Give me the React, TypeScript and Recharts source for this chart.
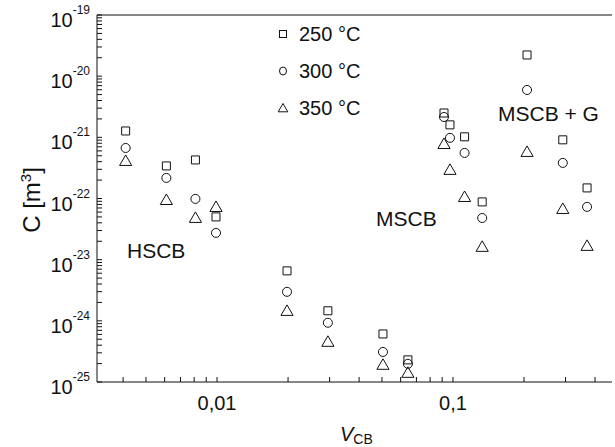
import React from 'react';
import { ScatterChart, Scatter, XAxis, YAxis, ZAxis, ReferenceLine, Customized } from 'recharts';

const FONT = '"Liberation Sans", Arial, Helvetica, sans-serif';
const INK = '#111';

// V_CB values (shared by the three temperatures)
const vcb = [0.0041, 0.0061, 0.0081, 0.0099, 0.0198, 0.0295, 0.0505, 0.0644, 0.0916, 0.0971, 0.112, 0.133, 0.206, 0.292, 0.37];
const c250 = [1.27e-21, 3.41e-22, 4.27e-22, 5.0e-23, 6.56e-24, 1.46e-24, 6.1e-25, 2.3e-25, 2.5e-21, 1.6e-21, 1.02e-21, 8.8e-23, 2.22e-20, 9.1e-22, 1.49e-22];
const c300 = [6.7e-22, 2.17e-22, 9.85e-23, 2.74e-23, 2.98e-24, 9.3e-25, 3.1e-25, 1.98e-25, 2.15e-21, 9.8e-22, 5.56e-22, 4.8e-23, 5.95e-21, 3.82e-22, 7.3e-23];
const c350 = [3.96e-22, 9.1e-23, 4.64e-23, 7.0e-23, 1.4e-24, 4.37e-25, 1.84e-25, 1.36e-25, 7.5e-22, 2.83e-22, 1.02e-22, 1.56e-23, 5.56e-22, 6.5e-23, 1.62e-23];
const seriesNames = ['250 °C', '300 °C', '350 °C'];
const symbols = ['square', 'circle', 'triangle'] as const;

const yDecades = [-25, -24, -23, -22, -21, -20, -19];
const xMajor = [0.01, 0.1];
const xMajorLabels = ['0,01', '0,1'];
const xMinor = [0.004, 0.005, 0.006, 0.007, 0.008, 0.009, 0.02, 0.03, 0.04, 0.05, 0.06, 0.07, 0.08, 0.09, 0.2, 0.3, 0.4];
const minorSteps = [2, 3, 4, 5, 6, 7, 8, 9];

const yTicks: number[] = [];
yDecades.forEach((d, i) => {
  yTicks.push(Math.pow(10, d));
  if (i < yDecades.length - 1) minorSteps.forEach(m => yTicks.push(m * Math.pow(10, d)));
});
const xTicks = [...xMajor, ...xMinor].sort((a, b) => a - b);

const toPoints = (ys: number[]) => vcb.map((x, i) => ({ x, y: ys[i] }));

const TICK = 5; // inward tick length

const isDecade = (v: number) => {
  const lg = Math.log10(v);
  return Math.abs(lg - Math.round(lg)) < 1e-6;
};

// tick lines are drawn by the axis (negative tickSize = inward); these only place the labels
const YTick = ({ x, y, payload }: any) => {
  const v = payload.value;
  if (!isDecade(v)) return <g />;
  return (
    <text x={x - TICK - 7} y={y + 12} textAnchor="end" fontSize={20} fontFamily={FONT} fill={INK}>
      10<tspan dy={-13} fontSize={12}>{Math.round(Math.log10(v))}</tspan>
    </text>
  );
};

const XTick = ({ x, y, payload }: any) => {
  const idx = xMajor.findIndex(m => Math.abs(m - payload.value) < 1e-9);
  if (idx < 0) return <g />;
  return (
    <text x={x} y={y + TICK + 28} textAnchor="middle" fontSize={20} fontFamily={FONT} fill={INK}>{xMajorLabels[idx]}</text>
  );
};

const Annotations = () => (
  <g fontFamily={FONT} fill={INK}>
    {seriesNames.map((n, i) => (
      <text key={n} x={299} y={41 + i * 37} fontSize={20}>{n}</text>
    ))}
    <rect x={279.5} y={30.5} width={7} height={7} fill="none" stroke={INK} />
    <ellipse cx={283} cy={71} rx={3.5} ry={4} fill="none" stroke={INK} />
    <polygon points="283,103.5 278.2,111.8 287.8,111.8" fill="none" stroke={INK} />
    <text x={127} y={258} fontSize={21}>HSCB</text>
    <text x={376} y={226} fontSize={21}>MSCB</text>
    <text x={498} y={121} fontSize={21}>MSCB + G</text>
    <text transform="translate(40,200) rotate(-90)" textAnchor="middle" fontSize={24}>
      C [m<tspan dy={-9} fontSize={15}>3</tspan><tspan dy={9}>]</tspan>
    </text>
    <text x={340} y={441} fontSize={20} fontStyle="italic">V<tspan dy={3} fontSize={14} fontStyle="normal">CB</tspan></text>
  </g>
);

export default function App() {
  const data = [c250, c300, c350].map(toPoints);
  return (
    <div style={{ position: 'absolute', left: 0, top: 0, width: 615, height: 447, background: '#fff' }}>
      <ScatterChart width={615} height={447} margin={{ top: 15, right: 3, left: 0, bottom: 0 }}>
        <XAxis
          type="number" dataKey="x" scale="log" domain={[0.0031, 0.472]}
          ticks={xTicks} interval={0} tick={<XTick />} tickSize={-TICK} tickMargin={0}
          height={65} stroke={INK}
        />
        <YAxis
          type="number" dataKey="y" scale="log" domain={[1e-25, 1e-19]}
          ticks={yTicks} interval={0} tick={<YTick />} tickSize={-TICK} tickMargin={0}
          width={97} stroke={INK}
        />
        <ZAxis range={[48, 48]} />
        <ReferenceLine y={1e-19} stroke={INK} />
        {data.map((d, i) => (
          <Scatter
            key={seriesNames[i]} name={seriesNames[i]} data={d} shape={symbols[i]}
            fill="none" stroke={INK} strokeWidth={1} isAnimationActive={false}
          />
        ))}
        <Customized component={Annotations} />
      </ScatterChart>
    </div>
  );
}
